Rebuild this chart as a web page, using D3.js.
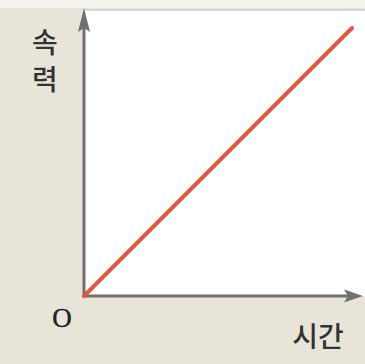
<!DOCTYPE html>
<html>
<head>
<meta charset="utf-8">
<script src="https://cdn.jsdelivr.net/npm/d3@7"></script>
<style>
  html, body { margin: 0; padding: 0; background: #e8e5d8; }
  svg { display: block; }
</style>
</head>
<body>
<svg id="chart" width="365" height="364"></svg>
<script>
// Speed grows uniformly with time: a straight line through the origin.
const times = [0, 10];
const speeds = [0, 10];
const axisLabels = { x: "시간", y: ["속", "력"], origin: "O" };

const W = 365, H = 364;
const origin = { x: 84, y: 296 };

const x = d3.scaleLinear().domain([0, 10]).range([origin.x, 352]);
const y = d3.scaleLinear().domain([0, 10]).range([origin.y, 28]);

const svg = d3.select("#chart");

// backdrop
svg.append("rect").attr("x", 0).attr("y", 0).attr("width", W).attr("height", H).attr("fill", "#e8e5d8");
svg.append("rect").attr("x", 0).attr("y", 0).attr("width", W).attr("height", 8).attr("fill", "#f3f2ec");

// white plotting panel
svg.append("rect")
  .attr("x", origin.x).attr("y", 10)
  .attr("width", W - origin.x).attr("height", origin.y - 10)
  .attr("fill", "#ffffff");
svg.append("line")
  .attr("x1", origin.x).attr("x2", W).attr("y1", 10).attr("y2", 10)
  .attr("stroke", "#cfcfcf").attr("stroke-width", 1.5);

const axisColor = "#707070";

// axes with arrowheads
svg.append("line")
  .attr("x1", origin.x - 1).attr("y1", origin.y)
  .attr("x2", 348).attr("y2", origin.y)
  .attr("stroke", axisColor).attr("stroke-width", 3);
svg.append("path")
  .attr("d", `M363,${origin.y} L344,${origin.y - 6.5} L348,${origin.y} L344,${origin.y + 6.5} Z`)
  .attr("fill", axisColor);

svg.append("line")
  .attr("x1", origin.x).attr("y1", origin.y + 1.5)
  .attr("x2", origin.x).attr("y2", 24)
  .attr("stroke", axisColor).attr("stroke-width", 3);
svg.append("path")
  .attr("d", `M${origin.x},8 L${origin.x - 6},32 L${origin.x},28 L${origin.x + 6},32 Z`)
  .attr("fill", axisColor);

// the speed–time line
const line = d3.line().x(d => x(d[0])).y(d => y(d[1]));
svg.append("path")
  .datum(times.map((t, i) => [t, speeds[i]]))
  .attr("d", line)
  .attr("fill", "none")
  .attr("stroke", "#e0583a")
  .attr("stroke-width", 4)
  .attr("stroke-linecap", "round");

// labels
svg.append("text")
  .attr("x", 62).attr("y", 327)
  .attr("text-anchor", "middle")
  .attr("font-family", "'Liberation Serif', serif")
  .attr("font-size", 27)
  .attr("font-weight", 500)
  .attr("stroke", "#222").attr("stroke-width", 0.4)
  .attr("fill", "#222")
  .text(axisLabels.origin);

svg.append("text")
  .attr("x", 318).attr("y", 347)
  .attr("text-anchor", "middle")
  .attr("font-family", "'Noto Sans CJK KR', sans-serif")
  .attr("font-size", 28)
  .attr("font-weight", 500)
  .attr("fill", "#333")
  .text(axisLabels.x);

axisLabels.y.forEach((ch, i) => {
  svg.append("text")
    .attr("x", 45).attr("y", 53 + i * 37)
    .attr("text-anchor", "middle")
    .attr("font-family", "'Noto Sans CJK KR', sans-serif")
    .attr("font-size", 28)
    .attr("font-weight", 500)
    .attr("fill", "#333")
    .text(ch);
});
</script>
</body>
</html>
